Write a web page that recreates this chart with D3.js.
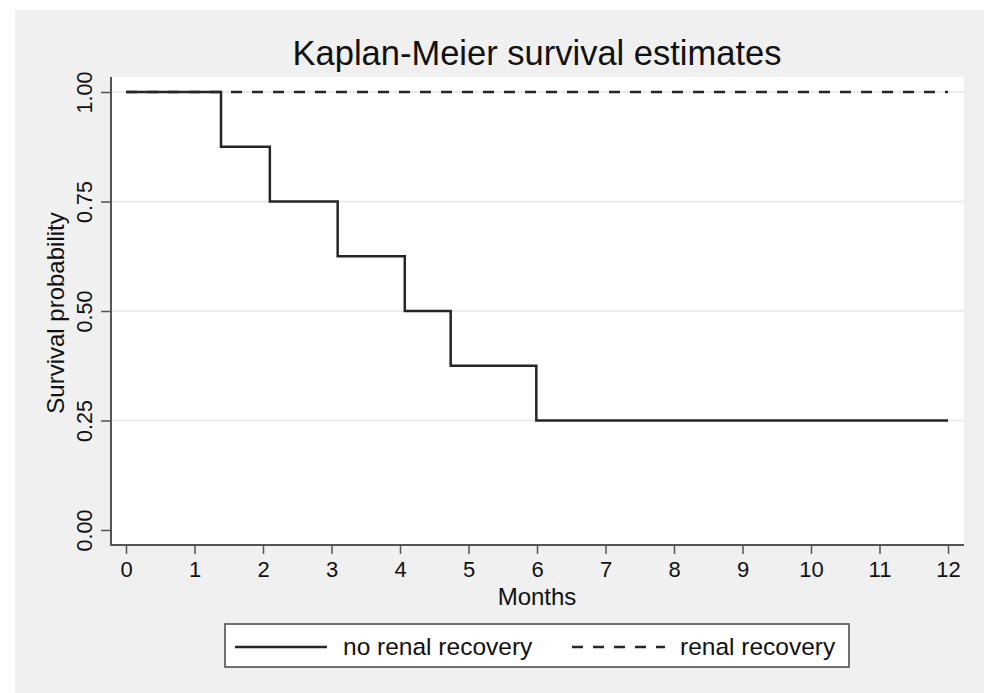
<!DOCTYPE html>
<html>
<head>
<meta charset="utf-8">
<script src="https://cdn.jsdelivr.net/npm/d3@7"></script>
<style>
    html, body { margin: 0; padding: 0; background: #ffffff; }
    text { font-family: "Liberation Sans", Arial, sans-serif; fill: #111; }
</style>
</head>
<body>
<script>
// step times (months) and survival values
const noRecoveryTimes = [0, 1.387, 2.10, 3.09, 4.07, 4.74, 5.99, 12];
const noRecoveryValues = [1, 0.875, 0.75, 0.625, 0.5, 0.375, 0.25, 0.25];
const recoveryTimes = [0, 12];
const recoveryValues = [1, 1];
const xTicks = [0, 1, 2, 3, 4, 5, 6, 7, 8, 9, 10, 11, 12];
const yTicks = [0, 0.25, 0.5, 0.75, 1];
const seriesNames = ["no renal recovery", "renal recovery"];

const width = 984, height = 693;
// plot region (white box) inside the grey graph region
let plot = { left: 110, right: 964, top: 77, bottom: 546 };

let svg = d3.select("body").append("svg")
    .attr("width", width)
    .attr("height", height);

// grey background of the graph
svg.append("rect")
    .attr("x", 15).attr("y", 10)
    .attr("width", width - 15).attr("height", height - 10)
    .attr("fill", "#f0f0f0");

svg.append("rect")
    .attr("x", plot.left).attr("y", plot.top)
    .attr("width", plot.right - plot.left).attr("height", plot.bottom - plot.top)
    .attr("fill", "#ffffff");

let xScale = d3.scaleLinear()
    .domain([0, 12])
    .range([126, 948]);

let yScale = d3.scaleLinear()
    .domain([0, 1])
    .range([530, 92]);

// horizontal grid lines
svg.append("g")
    .selectAll("line")
    .data(yTicks.filter(d => d > 0))
    .join("line")
    .attr("x1", plot.left + 1).attr("x2", plot.right)
    .attr("y1", d => yScale(d)).attr("y2", d => yScale(d))
    .attr("stroke", "#e6e6e6")
    .attr("stroke-width", 1.5);

// x axis
let xAxis = svg.append("g")
    .attr("transform", "translate(0," + (plot.bottom - 1) + ")")
    .call(d3.axisBottom(xScale).tickValues(xTicks).tickSize(9).tickSizeOuter(0).tickPadding(7).tickFormat(d3.format("d")));
xAxis.select(".domain").remove();
xAxis.selectAll(".tick line").attr("stroke", "#555").attr("stroke-width", 1.5);
xAxis.selectAll(".tick text")
    .style("font-size", "22px")
    .style("font-family", "'Liberation Sans', Arial, sans-serif")
    .attr("fill", "#111");

// y axis, labels rotated like Stata does
let yAxis = svg.append("g")
    .attr("transform", "translate(" + (plot.left + 1) + ",0)")
    .call(d3.axisLeft(yScale).tickValues(yTicks).tickSize(10).tickSizeOuter(0).tickFormat(d3.format(".2f")));
yAxis.select(".domain").remove();
yAxis.selectAll(".tick line").attr("stroke", "#555").attr("stroke-width", 1.5);
yAxis.selectAll(".tick text")
    .attr("x", null).attr("dy", null)
    .attr("text-anchor", "middle")
    .attr("transform", "translate(-19,0) rotate(-90)")
    .style("font-size", "21.5px")
    .style("font-family", "'Liberation Sans', Arial, sans-serif")
    .attr("fill", "#111");

// axis lines
svg.append("line")
    .attr("x1", plot.left + 1).attr("x2", plot.left + 1)
    .attr("y1", plot.top).attr("y2", plot.bottom)
    .attr("stroke", "#555").attr("stroke-width", 2);
svg.append("line")
    .attr("x1", plot.left).attr("x2", plot.right)
    .attr("y1", plot.bottom - 1).attr("y2", plot.bottom - 1)
    .attr("stroke", "#555").attr("stroke-width", 2);

let line = d3.line()
    .x(d => xScale(d.t))
    .y(d => yScale(d.s))
    .curve(d3.curveStepAfter);

let recovery = recoveryTimes.map((t, i) => ({ t: t, s: recoveryValues[i] }));
let noRecovery = noRecoveryTimes.map((t, i) => ({ t: t, s: noRecoveryValues[i] }));

svg.append("path")
    .datum(recovery)
    .attr("d", line)
    .attr("fill", "none")
    .attr("stroke", "#262626")
    .attr("stroke-width", 2.5)
    .attr("stroke-dasharray", "11,10");

svg.append("path")
    .datum(noRecovery)
    .attr("d", line)
    .attr("fill", "none")
    .attr("stroke", "#262626")
    .attr("stroke-width", 2.5);

// titles
svg.append("text")
    .attr("x", 537).attr("y", 65)
    .attr("text-anchor", "middle")
    .style("font-size", "34.5px")
    .text("Kaplan-Meier survival estimates");

svg.append("text")
    .attr("x", 537).attr("y", 605)
    .attr("text-anchor", "middle")
    .style("font-size", "24px")
    .text("Months");

svg.append("text")
    .attr("transform", "translate(64," + ((yScale(0) + yScale(1)) / 2 + 2) + ") rotate(-90)")
    .attr("text-anchor", "middle")
    .style("font-size", "24px")
    .text("Survival probability");

// legend
let legend = svg.append("g");
legend.append("rect")
    .attr("x", 225).attr("y", 624)
    .attr("width", 624).attr("height", 43)
    .attr("fill", "#ffffff")
    .attr("stroke", "#444")
    .attr("stroke-width", 1.5);

let legendItems = [
    { name: seriesNames[0], x1: 235, x2: 327, tx: 343, dash: null },
    { name: seriesNames[1], x1: 572, x2: 665, tx: 680, dash: "11,10" }
];
legend.selectAll("line.key")
    .data(legendItems)
    .join("line")
    .attr("class", "key")
    .attr("x1", d => d.x1).attr("x2", d => d.x2)
    .attr("y1", 647).attr("y2", 647)
    .attr("stroke", "#262626")
    .attr("stroke-width", 2.5)
    .attr("stroke-dasharray", d => d.dash);
legend.selectAll("text")
    .data(legendItems)
    .join("text")
    .attr("x", d => d.tx).attr("y", 655)
    .style("font-size", "24.5px")
    .text(d => d.name);
</script>
</body>
</html>
